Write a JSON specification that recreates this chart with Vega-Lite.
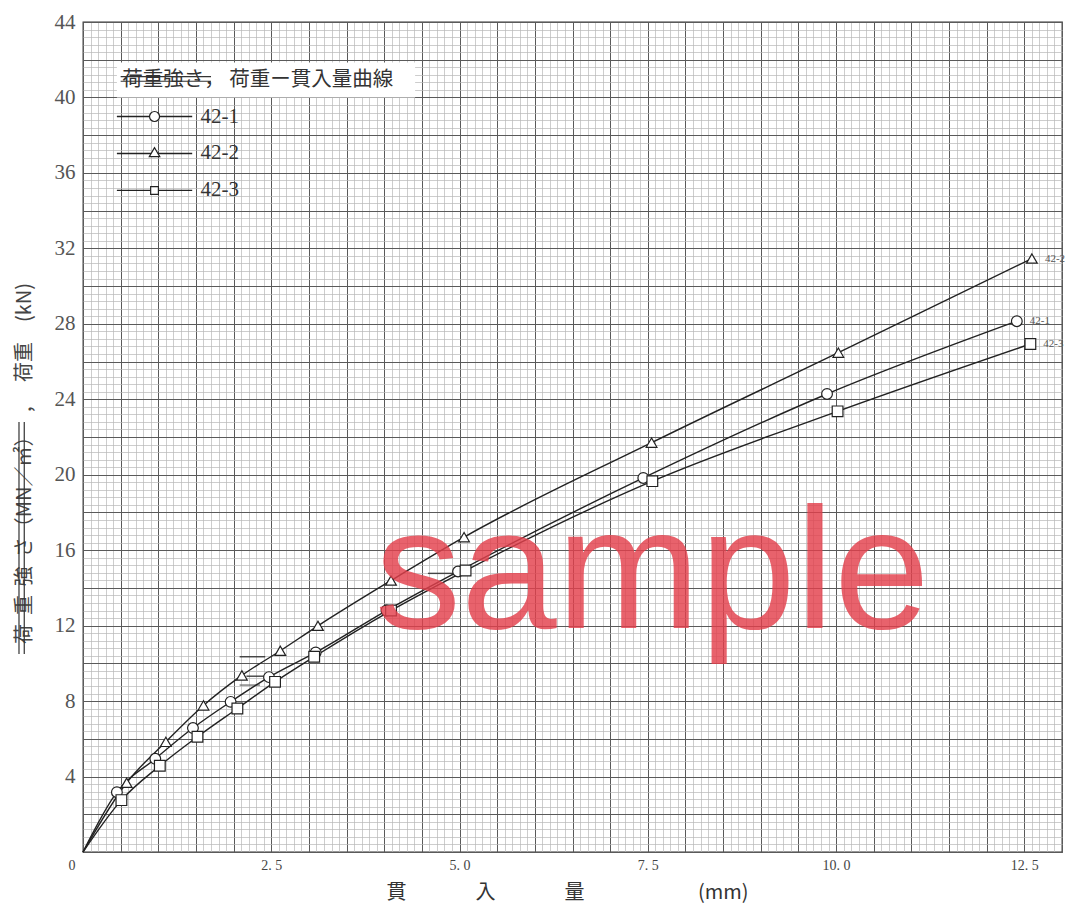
{
  "$schema": "https://vega.github.io/schema/vega-lite/v6.json",
  "width": 979,
  "height": 830,
  "autosize": {"type": "none"},
  "padding": {"left": 83, "top": 22, "right": 13, "bottom": 63},
  "background": "white",
  "config": {"view": {"stroke": "#333", "strokeWidth": 1.3}},
  "data": {"values": [
    {"s": "42-1", "x": 0, "y": 0}, {"s": "42-1", "x": 0.45, "y": 3.17}, {"s": "42-1", "x": 0.96, "y": 4.94}, {"s": "42-1", "x": 1.46, "y": 6.57}, {"s": "42-1", "x": 1.96, "y": 7.96}, {"s": "42-1", "x": 2.47, "y": 9.27}, {"s": "42-1", "x": 3.09, "y": 10.58}, {"s": "42-1", "x": 4.03, "y": 12.8}, {"s": "42-1", "x": 4.98, "y": 14.87}, {"s": "42-1", "x": 7.44, "y": 19.83}, {"s": "42-1", "x": 9.88, "y": 24.28}, {"s": "42-1", "x": 12.4, "y": 28.14},
    {"s": "42-2", "x": 0, "y": 0}, {"s": "42-2", "x": 0.58, "y": 3.67}, {"s": "42-2", "x": 1.1, "y": 5.84}, {"s": "42-2", "x": 1.6, "y": 7.77}, {"s": "42-2", "x": 2.11, "y": 9.36}, {"s": "42-2", "x": 2.62, "y": 10.67}, {"s": "42-2", "x": 3.12, "y": 11.99}, {"s": "42-2", "x": 4.09, "y": 14.39}, {"s": "42-2", "x": 5.06, "y": 16.69}, {"s": "42-2", "x": 7.55, "y": 21.7}, {"s": "42-2", "x": 10.03, "y": 26.47}, {"s": "42-2", "x": 12.6, "y": 31.46},
    {"s": "42-3", "x": 0, "y": 0}, {"s": "42-3", "x": 0.51, "y": 2.75}, {"s": "42-3", "x": 1.02, "y": 4.57}, {"s": "42-3", "x": 1.52, "y": 6.11}, {"s": "42-3", "x": 2.05, "y": 7.61}, {"s": "42-3", "x": 2.55, "y": 9.02}, {"s": "42-3", "x": 3.07, "y": 10.35}, {"s": "42-3", "x": 4.09, "y": 12.8}, {"s": "42-3", "x": 5.08, "y": 14.92}, {"s": "42-3", "x": 7.56, "y": 19.66}, {"s": "42-3", "x": 10.02, "y": 23.36}, {"s": "42-3", "x": 12.58, "y": 26.93}
  ]},
  "encoding": {
    "x": {
      "field": "x", "type": "quantitative",
      "scale": {"domain": [0, 13], "nice": false, "zero": false},
      "axis": {
        "title": "貫　　　\u00a0\u00a0入　　　\u00a0\u00a0量　　　　　\u00a0\u00a0\u00a0(mm)",
        "titleFont": "Noto Sans CJK JP", "titleFontSize": 20, "titleFontWeight": "normal", "titleColor": "#333",
        "titlePadding": 10, "titleX": 484,
        "tickCount": 130,
        "grid": true,
        "gridColor": {"condition": {"test": "round(datum.value*10) % 5 === 0", "value": "#5a5a5a"}, "value": "#b8b8b8"},
        "gridWidth": {"condition": {"test": "round(datum.value*10) % 5 === 0", "value": 1}, "value": 0.7},
        "ticks": false, "domain": false,
        "labelExpr": "datum.value === 0 ? '0' : (round(datum.value*10) % 25 === 0 ? replace(format(datum.value, '.1f'), '.', '.\u00a0') : '')",
        "labelAlign": {"condition": {"test": "datum.value === 0", "value": "right"}, "value": "center"},
        "labelOffset": {"condition": {"test": "datum.value === 0", "value": -8}, "value": 0},
        "labelOverlap": false, "labelFlush": false, "labelBound": false,
        "labelFont": "Liberation Serif", "labelFontSize": 14, "labelColor": "#444", "labelPadding": 6
      }
    },
    "y": {
      "field": "y", "type": "quantitative",
      "scale": {"domain": [0, 44], "nice": false, "zero": false},
      "axis": {
        "title": "荷\u00a0\u00a0重\u00a0\u00a0強\u00a0\u00a0さ（MN／㎡）　\u00a0,　\u00a0荷重　(kN)",
        "titleFont": "Noto Sans CJK JP", "titleFontSize": 20, "titleFontWeight": "normal", "titleColor": "#444",
        "titlePadding": 20, "titleY": 441,
        "values": [0,0.4,0.8,1.2,1.6,2,2.4,2.8,3.2,3.6,4,4.4,4.8,5.2,5.6,6,6.4,6.8,7.2,7.6,8,8.4,8.8,9.2,9.6,10,10.4,10.8,11.2,11.6,12,12.4,12.8,13.2,13.6,14,14.4,14.8,15.2,15.6,16,16.4,16.8,17.2,17.6,18,18.4,18.8,19.2,19.6,20,20.4,20.8,21.2,21.6,22,22.4,22.8,23.2,23.6,24,24.4,24.8,25.2,25.6,26,26.4,26.8,27.2,27.6,28,28.4,28.8,29.2,29.6,30,30.4,30.8,31.2,31.6,32,32.4,32.8,33.2,33.6,34,34.4,34.8,35.2,35.6,36,36.4,36.8,37.2,37.6,38,38.4,38.8,39.2,39.6,40,40.4,40.8,41.2,41.6,42,42.4,42.8,43.2,43.6,44],
        "grid": true,
        "gridColor": {"condition": {"test": "round(datum.value*10) % 20 === 0", "value": "#5a5a5a"}, "value": "#b8b8b8"},
        "gridWidth": {"condition": {"test": "round(datum.value*10) % 20 === 0", "value": 1}, "value": 0.7},
        "ticks": false, "domain": false,
        "labelExpr": "(round(datum.value*10) % 40 === 0 && datum.value > 0) ? format(datum.value, 'd') : ''",
        "labelOverlap": false, "labelFlush": false, "labelBound": false,
        "labelFont": "Liberation Serif", "labelFontSize": 21, "labelColor": "#555", "labelPadding": 8
      }
    }
  },
  "layer": [
    {
      "transform": [{"filter": "datum.s === '42-1' && datum.x === 0"}],
      "mark": {"type": "rect", "fill": "white", "strokeWidth": 0},
      "encoding": {
        "x": {"datum": 0.45, "type": "quantitative"},
        "x2": {"datum": 4.41},
        "y": {"datum": 41.85, "type": "quantitative"},
        "y2": {"datum": 40.0}
      }
    },
    {
      "transform": [{"filter": "datum.s === '42-1' && datum.x === 0"}],
      "mark": {"type": "text", "align": "left", "baseline": "middle", "font": "Noto Sans CJK JP", "fontSize": 20.5, "color": "#333", "text": "荷重強さ，\u00a0荷重ー貫入量曲線"},
      "encoding": {
        "x": {"datum": 0.52, "type": "quantitative"},
        "y": {"datum": 40.93, "type": "quantitative"}
      }
    },
    {
      "transform": [{"filter": "datum.s === '42-1' && datum.x === 0"}],
      "mark": {"type": "rule", "color": "#333", "strokeWidth": 1.2},
      "encoding": {"x": {"datum": 0.5, "type": "quantitative"}, "x2": {"datum": 1.7}, "y": {"datum": 41.1, "type": "quantitative"}}
    },
    {
      "transform": [{"filter": "datum.s === '42-1' && datum.x === 0"}],
      "mark": {"type": "rule", "color": "#333", "strokeWidth": 1.2},
      "encoding": {"x": {"datum": 0.5, "type": "quantitative"}, "x2": {"datum": 1.7}, "y": {"datum": 40.86, "type": "quantitative"}}
    },
    {
      "transform": [{"filter": "datum.s === '42-1' && datum.x === 0"}],
      "mark": {"type": "rule", "color": "#333", "strokeWidth": 1.2, "clip": false},
      "encoding": {"x": {"datum": -0.85, "type": "quantitative"}, "y": {"datum": 10.5, "type": "quantitative"}, "y2": {"datum": 22.8}}
    },
    {
      "transform": [{"filter": "datum.s === '42-1' && datum.x === 0"}],
      "mark": {"type": "rule", "color": "#333", "strokeWidth": 1.2, "clip": false},
      "encoding": {"x": {"datum": -0.78, "type": "quantitative"}, "y": {"datum": 10.5, "type": "quantitative"}, "y2": {"datum": 22.8}}
    },
    {
      "transform": [{"filter": "datum.s === '42-1' && datum.x === 0"}],
      "mark": {"type": "rule", "color": "#333", "strokeWidth": 1.3},
      "encoding": {"x": {"datum": 2.08, "type": "quantitative"}, "x2": {"datum": 2.42}, "y": {"datum": 10.35, "type": "quantitative"}}
    },
    {
      "transform": [{"filter": "datum.s === '42-1' && datum.x === 0"}],
      "mark": {"type": "rule", "color": "#333", "strokeWidth": 1.3},
      "encoding": {"x": {"datum": 2.17, "type": "quantitative"}, "x2": {"datum": 2.46}, "y": {"datum": 9.32, "type": "quantitative"}}
    },
    {
      "transform": [{"filter": "datum.s === '42-1' && datum.x === 0"}],
      "mark": {"type": "rule", "color": "#666", "strokeWidth": 1.2},
      "encoding": {"x": {"datum": 2.08, "type": "quantitative"}, "x2": {"datum": 2.35}, "y": {"datum": 8.85, "type": "quantitative"}}
    },
    {
      "transform": [{"filter": "datum.s === '42-1' && datum.x === 0"}],
      "mark": {"type": "rule", "color": "#444", "strokeWidth": 1.4},
      "encoding": {"x": {"datum": 4.58, "type": "quantitative"}, "x2": {"datum": 4.97}, "y": {"datum": 14.77, "type": "quantitative"}}
    },
    {
      "transform": [{"filter": "datum.s === '42-1' && datum.x === 0"}],
      "mark": {"type": "rule", "color": "#222", "strokeWidth": 1.3},
      "encoding": {"x": {"datum": 0.45, "type": "quantitative"}, "x2": {"datum": 1.45}, "y": {"datum": 38.99, "type": "quantitative"}}
    },
    {
      "transform": [{"filter": "datum.s === '42-1' && datum.x === 0"}],
      "mark": {"type": "rule", "color": "#222", "strokeWidth": 1.3},
      "encoding": {"x": {"datum": 0.45, "type": "quantitative"}, "x2": {"datum": 1.45}, "y": {"datum": 37.03, "type": "quantitative"}}
    },
    {
      "transform": [{"filter": "datum.s === '42-1' && datum.x === 0"}],
      "mark": {"type": "rule", "color": "#222", "strokeWidth": 1.3},
      "encoding": {"x": {"datum": 0.45, "type": "quantitative"}, "x2": {"datum": 1.45}, "y": {"datum": 35.07, "type": "quantitative"}}
    },
    {
      "transform": [{"filter": "datum.s === '42-1' && datum.x === 0"}],
      "mark": {"type": "point", "shape": "circle", "filled": false, "fill": "white", "stroke": "#222", "strokeWidth": 1.2, "size": 100, "opacity": 1},
      "encoding": {"x": {"datum": 0.95, "type": "quantitative"}, "y": {"datum": 38.99, "type": "quantitative"}}
    },
    {
      "transform": [{"filter": "datum.s === '42-1' && datum.x === 0"}],
      "mark": {"type": "point", "shape": "triangle-up", "filled": false, "fill": "white", "stroke": "#222", "strokeWidth": 1.2, "size": 110, "opacity": 1},
      "encoding": {"x": {"datum": 0.95, "type": "quantitative"}, "y": {"datum": 37.1, "type": "quantitative"}}
    },
    {
      "transform": [{"filter": "datum.s === '42-1' && datum.x === 0"}],
      "mark": {"type": "point", "shape": "square", "filled": false, "fill": "white", "stroke": "#222", "strokeWidth": 1.2, "size": 60, "opacity": 1},
      "encoding": {"x": {"datum": 0.95, "type": "quantitative"}, "y": {"datum": 35.07, "type": "quantitative"}}
    },
    {
      "transform": [{"filter": "datum.s === '42-1' && datum.x === 0"}],
      "mark": {"type": "text", "align": "left", "baseline": "middle", "font": "Liberation Serif", "fontSize": 21, "color": "#333", "text": "42-1"},
      "encoding": {"x": {"datum": 1.56, "type": "quantitative"}, "y": {"datum": 38.99, "type": "quantitative"}}
    },
    {
      "transform": [{"filter": "datum.s === '42-1' && datum.x === 0"}],
      "mark": {"type": "text", "align": "left", "baseline": "middle", "font": "Liberation Serif", "fontSize": 21, "color": "#333", "text": "42-2"},
      "encoding": {"x": {"datum": 1.56, "type": "quantitative"}, "y": {"datum": 37.03, "type": "quantitative"}}
    },
    {
      "transform": [{"filter": "datum.s === '42-1' && datum.x === 0"}],
      "mark": {"type": "text", "align": "left", "baseline": "middle", "font": "Liberation Serif", "fontSize": 21, "color": "#333", "text": "42-3"},
      "encoding": {"x": {"datum": 1.56, "type": "quantitative"}, "y": {"datum": 35.07, "type": "quantitative"}}
    },
    {
      "mark": {"type": "line", "interpolate": "monotone", "color": "#222", "strokeWidth": 1.4},
      "encoding": {"detail": {"field": "s", "type": "nominal"}}
    },
    {
      "transform": [{"filter": "datum.x > 0"}],
      "mark": {"type": "point", "filled": false, "fill": "white", "stroke": "#222", "strokeWidth": 1.2, "size": 115, "opacity": 1},
      "encoding": {
        "shape": {
          "field": "s", "type": "nominal",
          "scale": {"domain": ["42-1", "42-2", "42-3"], "range": ["circle", "triangle-up", "square"]},
          "legend": null
        }
      }
    },
    {
      "transform": [
        {"joinaggregate": [{"op": "max", "field": "x", "as": "mx"}], "groupby": ["s"]},
        {"filter": "datum.x === datum.mx"}
      ],
      "mark": {"type": "text", "align": "left", "baseline": "middle", "dx": 13, "font": "Liberation Serif", "fontSize": 11, "color": "#555"},
      "encoding": {"text": {"field": "s"}}
    },
    {
      "transform": [{"filter": "datum.s === '42-1' && datum.x === 0"}],
      "mark": {"type": "text", "align": "center", "baseline": "alphabetic", "font": "Liberation Sans", "fontSize": 172, "color": "#e3404c", "opacity": 0.82, "text": "sample"},
      "encoding": {
        "x": {"datum": 7.56, "type": "quantitative"},
        "y": {"datum": 11.87, "type": "quantitative"}
      }
    }
  ]
}
